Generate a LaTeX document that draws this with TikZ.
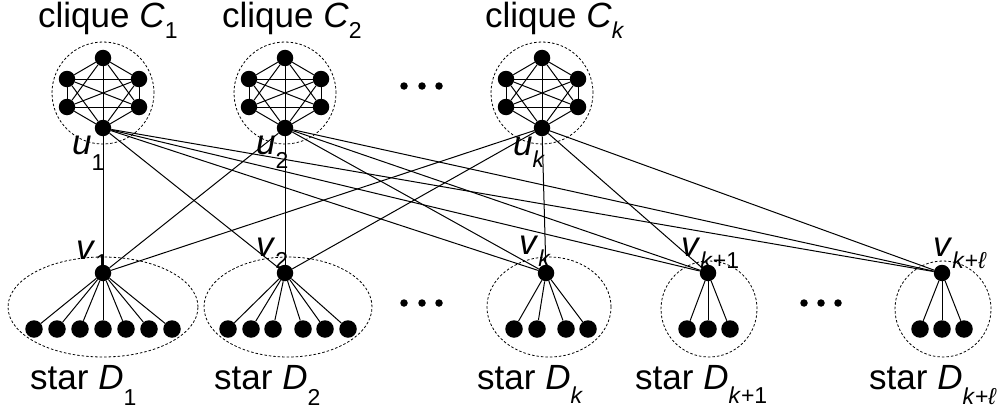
\documentclass[tikz,border=0pt]{standalone}
\usepackage{fontspec}
\setmainfont{Liberation Sans}
\usetikzlibrary{shapes.geometric}
\newcommand\subsc[2][12pt]{\raisebox{-#1}{\fontsize{23}{23}\selectfont #2}}
\tikzset{
  vtx/.style={circle, fill=black, inner sep=0pt, minimum size=16.5pt},
  leaf/.style={circle, fill=black, inner sep=0pt, minimum size=17.5pt},
  smalldot/.style={circle, fill=black, inner sep=0pt, minimum size=7.5pt},
  grp/.style={draw, dash pattern=on 2.5pt off 2pt, line width=0.8pt, inner sep=0pt},
  edge/.style={line width=1pt},
  lbl/.style={anchor=base west, inner sep=0pt, font=\fontsize{35}{35}\selectfont},
}
\begin{document}
\begin{tikzpicture}[x=1pt,y=-1pt]
\useasboundingbox (0,0) rectangle (1000,412);
% cliques
\foreach \n/\x in {1/103,2/285,k/542}{
  \node[grp, circle, minimum size=102pt] (C\n) at (\x,93) {};
  \node[vtx] (C\n-1) at (\x,58) {};
  \node[vtx] (C\n-2) at (\x-36,79) {};
  \node[vtx] (C\n-3) at (\x+36,79) {};
  \node[vtx] (C\n-4) at (\x-36,107) {};
  \node[vtx] (C\n-5) at (\x+36,107) {};
  \node[vtx, alias=u\n] (C\n-6) at (\x,128) {};
  \foreach \i in {1,...,5}{
    \pgfmathtruncatemacro\s{\i+1}
    \foreach \j in {\s,...,6}{
      \draw[edge] (C\n-\i) -- (C\n-\j);
    }
  }
}
% stars
\node[grp, ellipse, minimum width=190pt, minimum height=100pt] (D1) at (103,307) {};
\node[grp, ellipse, minimum width=168pt, minimum height=100pt] (D2) at (288,307) {};
\node[grp, ellipse, minimum width=124pt, minimum height=100pt] (Dk) at (549,307) {};
\node[grp, circle, minimum size=96pt] (Dk1) at (709,309) {};
\node[grp, circle, minimum size=96pt] (Dkl) at (943,309) {};
\node[vtx] (v1) at (103,273) {};
\node[vtx] (v2) at (285,273) {};
\node[vtx] (vk) at (546,273) {};
\node[vtx] (vk1) at (708,273) {};
\node[vtx] (vkl) at (942,273) {};
\foreach \x [count=\i] in {34,57,80,103,126,149,172}{
  \node[leaf] (d1-\i) at (\x,329) {};
  \draw[edge] (v1) -- (d1-\i);
}
\foreach \x [count=\i] in {228,251,273,303,325,348}{
  \node[leaf] (d2-\i) at (\x,329) {};
  \draw[edge] (v2) -- (d2-\i);
}
\foreach \x [count=\i] in {514,537,566,588}{
  \node[leaf] (dk-\i) at (\x,329) {};
  \draw[edge] (vk) -- (dk-\i);
}
\foreach \x [count=\i] in {687,708,730}{
  \node[leaf] (dk1-\i) at (\x,329) {};
  \draw[edge] (vk1) -- (dk1-\i);
}
\foreach \x [count=\i] in {920,942,964}{
  \node[leaf] (dkl-\i) at (\x,329) {};
  \draw[edge] (vkl) -- (dkl-\i);
}
% bipartite edges
\foreach \a in {1,2,k}{
  \foreach \b in {1,2,k,k1,kl}{
    \draw[edge] (u\a) -- (v\b);
  }
}
% ellipsis dots
\foreach \x [count=\i] in {404,422,439}{
  \node[smalldot] (ta-\i) at (\x,86) {};
  \node[smalldot] (ba-\i) at (\x,303) {};
}
\foreach \x [count=\i] in {804,821,838}{
  \node[smalldot] (bb-\i) at (\x,303) {};
}
% labels
\node[lbl] (lC1) at (38,28) {clique \textit{C}\subsc[11pt]{1}};
\node[lbl] (lC2) at (222,28) {clique \textit{C}\subsc[11pt]{2}};
\node[lbl] (lCk) at (485,28) {clique \textit{C}\subsc[11pt]{\textit{k}}};
\node[lbl] (lu1) at (72,154) {\textit{u}\subsc[16pt]{1}};
\node[lbl] (lu2) at (256,154) {\textit{u}\subsc[14pt]{2}};
\node[lbl] (luk) at (513,155) {\textit{u}\subsc[12pt]{\textit{k}}};
\node[lbl] (lv1) at (76,259) {\textit{v}\subsc[11pt]{1}};
\node[lbl] (lv2) at (256,256) {\textit{v}\subsc[12pt]{2}};
\node[lbl] (lvk) at (519,254) {\textit{v}\subsc[12pt]{\textit{k}}};
\node[lbl] (lvk1) at (681,256) {\textit{v}\subsc[12pt]{\textit{k}+1}};
\node[lbl] (lvkl) at (933,256) {\textit{v}\subsc[12pt]{\textit{k}+\textit{ℓ}}};
\node[lbl] (lD1) at (30,389) {star \textit{D}\subsc[16pt]{1}};
\node[lbl] (lD2) at (214,389) {star \textit{D}\subsc[16pt]{2}};
\node[lbl] (lDk) at (477,389) {star \textit{D}\subsc[14pt]{\textit{k}}};
\node[lbl] (lDk1) at (635,389) {star \textit{D}\subsc[14pt]{\textit{k}+1}};
\node[lbl] (lDkl) at (869,389) {star \textit{D}\subsc[15pt]{\textit{k}+\textit{ℓ}}};
\end{tikzpicture}
\end{document}
